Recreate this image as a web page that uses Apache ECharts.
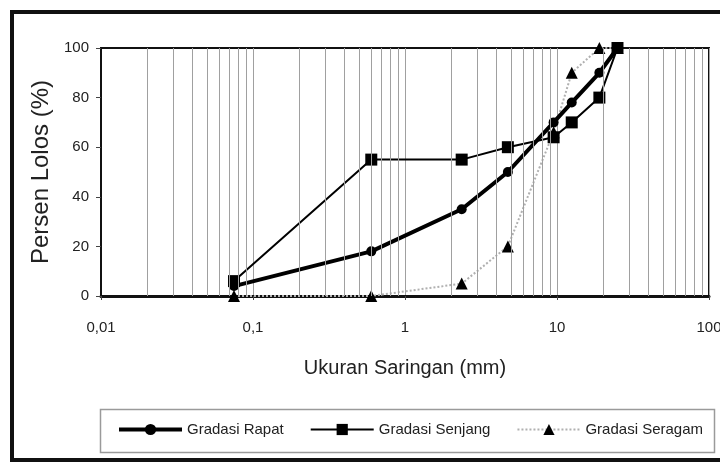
<!DOCTYPE html>
<html>
<head>
<meta charset="utf-8">
<script src="https://cdn.jsdelivr.net/npm/echarts@6/dist/echarts.min.js"></script>
<style>
  html, body { margin: 0; padding: 0; background: #fff; overflow: hidden; }
  #chart { width: 720px; height: 464px; }
</style>
</head>
<body>
<div id="chart"></div>
<script>
// Sieve sizes (mm) and percent passing for each gradation
const sieveSizes = [0.075, 0.6, 2.36, 4.75, 9.5, 12.5, 19, 25];
const gradasiRapat = [4, 18, 35, 50, 70, 78, 90, 100];
const gradasiSenjang = [6, 55, 55, 60, 64, 70, 80, 100];
const gradasiSeragam = [0, 0, 5, 20, 66, 90, 100, 100];
const seriesNames = ['Gradasi Rapat', 'Gradasi Senjang', 'Gradasi Seragam'];

// Axis ranges and titles
const xMin = 0.01, xMax = 100;
const yTicks = [0, 20, 40, 60, 80, 100];
const xTitle = 'Ukuran Saringan (mm)';
const yTitle = 'Persen Lolos (%)';

// Intermediate log-cycle grid values (2..9 in each decade)
const minorGrid = [];
for (let d = xMin; d < xMax * 0.99; d *= 10) {
  for (let m = 2; m <= 9; m++) minorGrid.push(Number((m * d).toPrecision(4)));
}

const font = "'Liberation Sans', Arial, sans-serif";

const pairs = vals => sieveSizes.map((s, i) => [s, vals[i]]);

const chart = echarts.init(document.getElementById('chart'), null, { renderer: 'canvas' });
chart.setOption({
  backgroundColor: '#fff',
  animation: false,
  grid: {
    left: 101, right: 11, top: 48, bottom: 168,
    outerBoundsMode: 'none', containLabel: false,
    show: true, borderColor: '#111', borderWidth: 2, backgroundColor: 'transparent'
  },
  xAxis: {
    type: 'log', logBase: 10, min: xMin, max: xMax,
    name: xTitle, nameLocation: 'middle', nameGap: 62,
    nameTextStyle: { fontFamily: font, fontSize: 20, color: '#222' },
    axisLine: { show: true, lineStyle: { color: '#111', width: 3 } },
    axisTick: { show: true, length: 4, lineStyle: { color: '#444' } },
    axisLabel: {
      margin: 24, fontFamily: font, fontSize: 15, color: '#222',
      formatter: v => String(Number(v.toPrecision(6))).replace('.', ',')
    },
    splitLine: { show: true, lineStyle: { color: '#a0a0a0', width: 1 } },
    minorTick: { show: false }, minorSplitLine: { show: false }
  },
  yAxis: {
    type: 'value', min: yTicks[0], max: yTicks[yTicks.length - 1], interval: 20,
    name: yTitle, nameLocation: 'middle', nameGap: 42,
    nameTextStyle: { fontFamily: font, fontSize: 24, color: '#222' },
    axisLine: { show: true, lineStyle: { color: '#111', width: 2 } },
    axisTick: { show: true, length: 5, lineStyle: { color: '#444' } },
    axisLabel: { margin: 12, fontFamily: font, fontSize: 15, color: '#222' },
    splitLine: { show: false }
  },
  legend: {
    data: [
      { name: seriesNames[0], lineStyle: { width: 4 } },
      { name: seriesNames[1], lineStyle: { width: 2 } },
      { name: seriesNames[2], lineStyle: { width: 2 } }
    ],
    left: 117, top: 422, width: 640, padding: 0,
    itemWidth: 63, itemHeight: 14, itemGap: 26,
    textStyle: { fontFamily: font, fontSize: 15, color: '#222' }
  },
  graphic: [
    { type: 'rect', shape: { x: 12, y: 12, width: 720, height: 448 }, silent: true,
      style: { fill: 'none', stroke: '#111', lineWidth: 4 } },
    { type: 'rect', shape: { x: 100.5, y: 409.5, width: 614, height: 43 }, silent: true,
      style: { fill: 'none', stroke: '#9a9a9a', lineWidth: 1.5 } }
  ],
  series: [
    {
      name: 'log grid', type: 'line', data: [], silent: true, z: 1,
      markLine: {
        silent: true, symbol: 'none', label: { show: false },
        lineStyle: { color: '#a0a0a0', width: 1, type: 'solid' },
        animation: false,
        data: minorGrid.map(v => ({ xAxis: v }))
      }
    },
    {
      name: 'Gradasi Seragam', type: 'line', data: pairs(gradasiSeragam), z: 2,
      symbol: 'triangle', symbolSize: 12,
      lineStyle: { color: '#b0b0b0', width: 2, type: 'dotted' },
      itemStyle: { color: '#000' }
    },
    {
      name: 'Gradasi Rapat', type: 'line', data: pairs(gradasiRapat), z: 3,
      symbol: 'circle', symbolSize: 10,
      lineStyle: { color: '#000', width: 4 },
      itemStyle: { color: '#000' }
    },
    {
      name: 'Gradasi Senjang', type: 'line', data: pairs(gradasiSenjang), z: 4,
      symbol: 'rect', symbolSize: 12,
      lineStyle: { color: '#000', width: 2 },
      itemStyle: { color: '#000' }
    }
  ]
});
</script>
</body>
</html>
